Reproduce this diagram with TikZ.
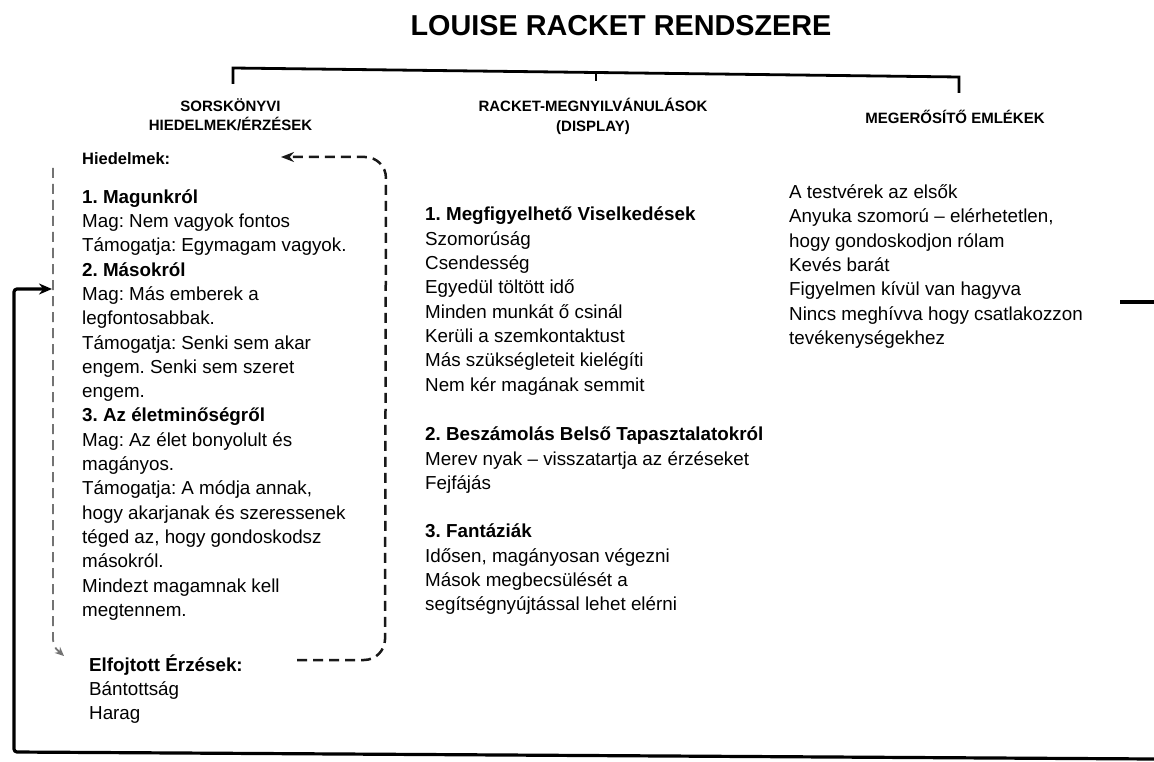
\documentclass[tikz,border=0pt]{standalone}
\usepackage{fontspec}
\setmainfont{Liberation Sans}
\usetikzlibrary{arrows.meta}
\frenchspacing
\newcommand{\firststrut}{\rule{0pt}{18pt}}
\tikzset{
  x=1pt, y=-1pt,
  body/.style={font=\fontsize{18.8}{24.3}\selectfont, align=left, anchor=north west, inner sep=0pt},
  hdr/.style={font=\bfseries\fontsize{15}{19.7}\selectfont, align=center, inner sep=0pt},
  dashloop/.style={draw=black!90, line width=2.5pt, dash pattern=on 10pt off 6pt},
  lightdash/.style={draw=black!55, line width=1.8pt, dash pattern=on 10pt off 6pt},
  solidloop/.style={draw=black, line width=3.2pt},
  bracket/.style={draw=black, line width=2.8pt},
}
\begin{document}
\begin{tikzpicture}
\useasboundingbox (0,0) rectangle (1154,762);

% title
\node[font=\bfseries\fontsize{28.8}{34}\selectfont, anchor=base, inner sep=0pt] (title) at (621,35.5) {LOUISE RACKET RENDSZERE};

% bracket
\coordinate (bl) at (233,84);
\coordinate (blt) at (233,68);
\coordinate (brt) at (959,77);
\coordinate (br) at (959,93);
\coordinate (bm) at (596,72.5);
\coordinate (bmb) at (596,81);
\draw[bracket] (bl) -- (blt) -- (brt) -- (br);
\draw[bracket] (bm) -- (bmb);

% headers
\node[hdr, anchor=north] (h1) at (230.5,97) {\rule{0pt}{14pt}SORSKÖNYVI\\HIEDELMEK/ÉRZÉSEK};
\node[hdr, anchor=north] (h2) at (593,97.7) {\rule{0pt}{14pt}RACKET-MEGNYILVÁNULÁSOK\\(DISPLAY)};
\node[hdr, anchor=base] (h3) at (955,123.5) {MEGERŐSÍTŐ EMLÉKEK};

% left column
\node[font=\bfseries\fontsize{16.5}{20}\selectfont, anchor=base west, inner sep=0pt] (hied) at (82,165) {Hiedelmek:};
\node[body] (beliefs) at (82,185) {\firststrut\textbf{1. Magunkról}\\
Mag: Nem vagyok fontos\\
Támogatja: Egymagam vagyok.\\
\textbf{2. Másokról}\\
Mag: Más emberek a\\
legfontosabbak.\\
Támogatja: Senki sem akar\\
engem. Senki sem szeret\\
engem.\\
\textbf{3. Az életminőségről}\\
Mag: Az élet bonyolult és\\
magányos.\\
Támogatja: A módja annak,\\
hogy akarjanak és szeressenek\\
téged az, hogy gondoskodsz\\
másokról.\\
Mindezt magamnak kell\\
megtennem.};
\node[body, font=\fontsize{18.8}{24}\selectfont] (supp) at (89,653) {\firststrut\textbf{Elfojtott Érzések:}\\
Bántottság\\
Harag};

% middle column
\node[body] (mid1) at (425,202.7) {\firststrut\textbf{1. Megfigyelhető Viselkedések}\\
Szomorúság\\
Csendesség\\
Egyedül töltött idő\\
Minden munkát ő csinál\\
Kerüli a szemkontaktust\\
Más szükségleteit kielégíti\\
Nem kér magának semmit};
\node[body] (mid2) at (425,422.5) {\firststrut\textbf{2. Beszámolás Belső Tapasztalatokról}\\
Merev nyak – visszatartja az érzéseket\\
Fejfájás};
\node[body] (mid3) at (425,519.5) {\firststrut\textbf{3. Fantáziák}\\
Idősen, magányosan végezni\\
Mások megbecsülését a\\
segítségnyújtással lehet elérni};

% right column
\node[body] (mem) at (789,180.3) {\firststrut A testvérek az elsők\\
Anyuka szomorú – elérhetetlen,\\
hogy gondoskodjon rólam\\
Kevés barát\\
Figyelmen kívül van hagyva\\
Nincs meghívva hogy csatlakozzon\\
tevékenységekhez};

% dashed loop: from suppressed feelings up to beliefs
\coordinate (a0) at (297,660);
\coordinate (a1) at (385,660);
\coordinate (a2) at (386,157);
\coordinate (a3) at (281,157);
\draw[dashloop, rounded corners=21pt, -{Stealth[length=13pt,width=10pt]}] (a0) -- (a1) -- (a2) -- (a3);

% dashed left edge: from beliefs down to suppressed feelings
\coordinate (b0) at (53,168);
\coordinate (b1) at (53,632);
\coordinate (b2) at (64,656);
\draw[lightdash, -{Stealth[length=9pt,width=8pt]}] (b0) -- (b1) .. controls (53,646) .. (b2);

% solid feedback loop
\coordinate (s0) at (1154,759);
\coordinate (s1) at (14,752);
\coordinate (s2) at (14,289);
\coordinate (s3) at (52,289);
\draw[solidloop, rounded corners=3pt, -{Stealth[length=13pt,width=11pt]}] (s0) -- (s1) -- (s2) -- (s3);

% fragment at right edge
\coordinate (r0) at (1120,302);
\coordinate (r1) at (1154,302);
\draw[solidloop] (r0) -- (r1);
\end{tikzpicture}
\end{document}
